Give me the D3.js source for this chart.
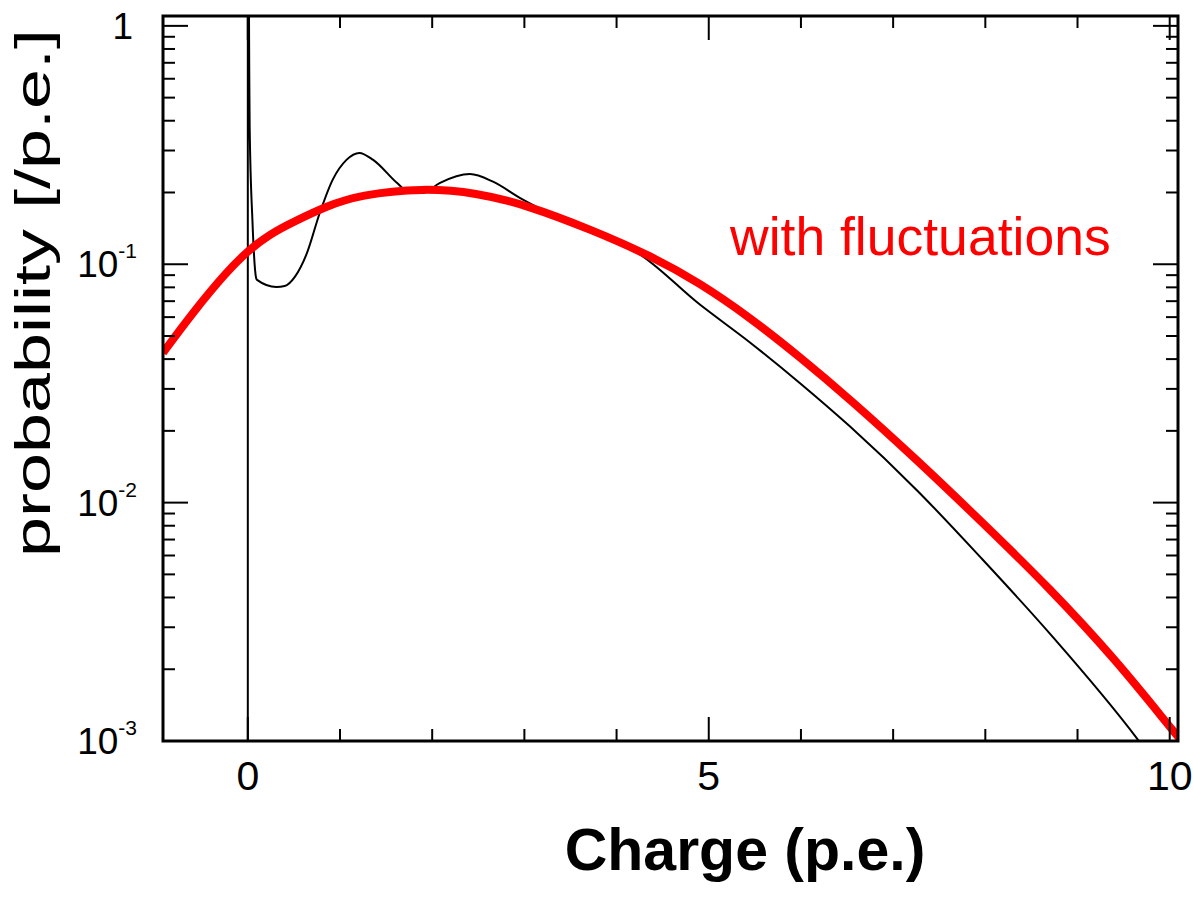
<!DOCTYPE html>
<html>
<head>
<meta charset="utf-8">
<script src="https://cdn.jsdelivr.net/npm/d3@7"></script>
<style>
  body { margin: 0; background: #fff; }
  svg { display: block; }
  text { font-family: "Liberation Sans", Arial, sans-serif; }
</style>
</head>
<body>
<svg id="canvas" width="1193" height="899"></svg>
<script>
const width = 1193, height = 899;
const svg = d3.select("#canvas");

// data: charge [p.e.] and probability [/p.e.]
// measured spectrum, spike at the pedestal (x=0) goes off the top
const measX = [0, 0, 0.015, 0.02, 0.05, 0.09, 0.10, 0.31, 0.40, 0.51, 0.64, 0.78, 0.92, 1.07, 1.21, 1.36,
  1.62, 1.76, 1.90, 2.08, 2.41, 2.66, 2.95, 3.40, 3.80, 4.22, 4.90, 5.44, 5.99, 6.53, 7.26, 7.97, 8.70, 9.64, 9.80];
const measY = [1e-4, 10, 0.70, 0.377, 0.153, 0.0876, 0.086, 0.0803, 0.081, 0.0885, 0.111, 0.164, 0.226, 0.274, 0.293, 0.274,
  0.219, 0.199, 0.199, 0.219, 0.239, 0.222, 0.190, 0.155, 0.133, 0.112, 0.0679, 0.0472, 0.0317, 0.0209, 0.01125, 0.00577, 0.00282, 0.00103, 0.00085];

// model curve "with fluctuations"
const fitX = [-0.92, -0.60, -0.23, 0, 0.24, 0.49, 0.86, 1.21, 1.90, 2.48, 3.02, 3.74, 4.36, 4.90, 5.44, 5.99, 6.53,
  7.26, 7.97, 8.70, 9.42, 10.03, 10.15];
const fitY = [0.0425, 0.0625, 0.0929, 0.1138, 0.134, 0.1504, 0.1758, 0.1954, 0.209, 0.1995, 0.1774, 0.139, 0.109, 0.0836, 0.0601, 0.0408, 0.0272,
  0.0151, 0.00824, 0.00437, 0.00218, 0.00111, 0.00098];

const xMajor = [0, 5, 10];
const xMinor = [1, 2, 3, 4, 6, 7, 8, 9];
const yMajor = [1, 0.1, 0.01, 0.001];
const yLabels = [["1", ""], ["10", "-1"], ["10", "-2"], ["10", "-3"]];

const L = 163, R = 1178, T = 16, B = 741;
const x = d3.scaleLinear().domain([-0.92, 10.09]).range([L, R]);
const y = d3.scaleLog().domain([1e-3, 1.1]).range([B, T]);

svg.append("defs").append("clipPath").attr("id", "plotclip")
  .append("rect").attr("x", L).attr("y", T).attr("width", R - L).attr("height", B - T);

const plot = svg.append("g").attr("clip-path", "url(#plotclip)");

const meas = measX.map((v, i) => [v, measY[i]]);
const fit = fitX.map((v, i) => [v, fitY[i]]);

plot.append("path")
  .attr("d", d3.line().x(d => x(d[0])).y(d => y(d[1])).curve(d3.curveMonotoneX)(meas))
  .attr("fill", "none").attr("stroke", "#000").attr("stroke-width", 2);

plot.append("path")
  .attr("d", d3.line().x(d => x(d[0])).y(d => y(d[1])).curve(d3.curveBasis)(fit))
  .attr("fill", "none").attr("stroke", "#ff0000").attr("stroke-width", 8);

// ticks, pointing inward on all four sides
const ticks = svg.append("g").attr("stroke", "#000").attr("stroke-width", 2);
xMajor.forEach(v => {
  ticks.append("line").attr("x1", x(v)).attr("x2", x(v)).attr("y1", B).attr("y2", B - 24);
  ticks.append("line").attr("x1", x(v)).attr("x2", x(v)).attr("y1", T).attr("y2", T + 24);
});
xMinor.forEach(v => {
  ticks.append("line").attr("x1", x(v)).attr("x2", x(v)).attr("y1", B).attr("y2", B - 12);
  ticks.append("line").attr("x1", x(v)).attr("x2", x(v)).attr("y1", T).attr("y2", T + 12);
});
const yMinor = [];
[0.001, 0.01, 0.1].forEach(d => { for (let k = 2; k <= 9; k++) yMinor.push(d * k); });
yMajor.forEach(v => {
  ticks.append("line").attr("x1", L).attr("x2", L + 25).attr("y1", y(v)).attr("y2", y(v));
  ticks.append("line").attr("x1", R).attr("x2", R - 25).attr("y1", y(v)).attr("y2", y(v));
});
yMinor.forEach(v => {
  ticks.append("line").attr("x1", L).attr("x2", L + 12).attr("y1", y(v)).attr("y2", y(v));
  ticks.append("line").attr("x1", R).attr("x2", R - 12).attr("y1", y(v)).attr("y2", y(v));
});

// frame
svg.append("rect").attr("x", L).attr("y", T).attr("width", R - L).attr("height", B - T)
  .attr("fill", "none").attr("stroke", "#000").attr("stroke-width", 3);

// x tick labels
svg.selectAll(".xl").data(xMajor).enter().append("text")
  .attr("x", d => x(d)).attr("y", 790).attr("text-anchor", "middle")
  .attr("font-size", 41).text(d => d);

// y tick labels
yMajor.forEach((v, i) => {
  const t = svg.append("text").attr("x", 137).attr("y", y(v) + 13)
    .attr("text-anchor", "end").attr("font-size", 37);
  if (yLabels[i][1]) {
    t.append("tspan").text(yLabels[i][0]);
    t.append("tspan").attr("font-size", 21).attr("dy", -19).text(yLabels[i][1]);
  } else {
    t.attr("x", 133).text(yLabels[i][0]);
  }
});

// axis titles
svg.append("text").attr("transform", "translate(50,293) rotate(-90)")
  .attr("text-anchor", "middle").attr("font-size", 50)
  .attr("textLength", 528).attr("lengthAdjust", "spacingAndGlyphs")
  .text("probability [/p.e.]");
svg.append("text").attr("x", 745).attr("y", 870).attr("text-anchor", "middle")
  .attr("font-size", 59).attr("font-weight", "bold").text("Charge (p.e.)");

svg.append("text").attr("x", 730).attr("y", 255).attr("fill", "#ff0000")
  .attr("font-size", 53.5).text("with fluctuations");
</script>
</body>
</html>
